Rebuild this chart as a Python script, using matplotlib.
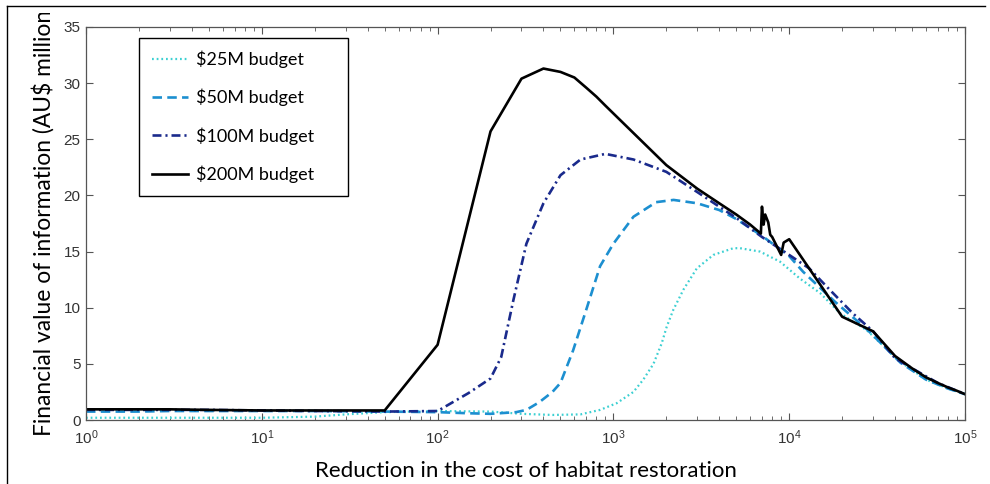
import matplotlib
matplotlib.use("Agg")
import matplotlib.pyplot as plt
from matplotlib.lines import Line2D
from matplotlib.ticker import LogLocator, NullFormatter, MultipleLocator
from matplotlib.transforms import Bbox

# Value of information vs. reduction in restoration cost, one curve per budget
labels = ["$25M budget", "$50M budget", "$100M budget", "$200M budget"]

x_25 = [1, 2, 5, 10, 20, 30, 50, 100, 200, 300, 450, 650, 840, 1045, 1300, 1480,
        1690, 1880, 2010, 2190, 2500, 2980, 3700, 4810, 5250, 6820, 8870, 11500,
        15000, 19500, 27600, 42700, 60000, 80000, 100000]
y_25 = [0.2, 0.2, 0.2, 0.2, 0.3, 0.5, 0.7, 0.8, 0.75, 0.55, 0.45, 0.5, 0.9, 1.5,
        2.5, 3.6, 5.0, 6.8, 8.3, 9.8, 11.6, 13.5, 14.7, 15.3, 15.3, 15.0, 14.1,
        12.6, 11.3, 9.5, 8.0, 5.2, 3.6, 2.8, 2.3]

x_50 = [1, 2, 3, 5, 10, 20, 50, 100, 150, 200, 280, 320, 380, 450, 500, 590, 700,
        840, 1000, 1300, 1750, 2200, 3000, 4000, 5000, 7000, 10000, 12000, 18000,
        28000, 43000, 60000, 80000, 100000]
y_50 = [0.75, 0.75, 0.8, 0.8, 0.8, 0.8, 0.75, 0.7, 0.6, 0.55, 0.7, 0.9, 1.6, 2.5,
        3.3, 6.2, 9.8, 13.7, 15.7, 18.1, 19.4, 19.6, 19.3, 18.7, 17.9, 16.4, 14.6,
        13.2, 10.6, 8.0, 5.1, 3.6, 2.8, 2.3]

x_100 = [1, 2, 5, 10, 20, 50, 100, 150, 200, 230, 270, 320, 400, 500, 650, 900,
         1300, 2000, 3000, 4000, 5000, 7000, 10000, 13000, 17000, 23000, 30000,
         40000, 50000, 70000, 100000]
y_100 = [0.9, 0.9, 0.9, 0.85, 0.8, 0.75, 0.8, 2.4, 3.7, 5.6, 10.7, 15.7, 19.3,
         21.8, 23.2, 23.7, 23.2, 22.1, 20.3, 19.0, 18.0, 16.3, 14.7, 13.5, 11.6,
         9.5, 7.9, 5.5, 4.6, 3.3, 2.3]

x_200 = [1, 2, 3, 5, 10, 20, 50, 100, 200, 300, 400, 500, 600, 700, 800, 900,
         1000, 2000, 3000, 4000, 5000, 6000, 6900, 7000, 7150, 7300, 7600, 7800,
         8000, 9000, 9300, 10000, 20000, 30000, 40000, 50000, 60000, 70000, 80000,
         90000, 100000]
y_200 = [0.95, 0.95, 0.95, 0.9, 0.85, 0.85, 0.85, 6.7, 25.7, 30.4, 31.3, 31.0,
         30.5, 29.6, 28.8, 28.0, 27.3, 22.7, 20.6, 19.3, 18.3, 17.4, 16.6, 19.0,
         17.4, 18.3, 17.6, 16.5, 16.3, 14.7, 15.8, 16.1, 9.2, 7.9, 5.7, 4.6, 3.8,
         3.3, 2.9, 2.6, 2.3]

plt.rcParams["mathtext.fontset"] = "custom"
plt.rcParams["mathtext.rm"] = "Liberation Sans"

fig = plt.figure(figsize=(9.9, 4.84), dpi=100)
ax = fig.add_axes([86 / 990, 64 / 484, 879 / 990, 393 / 484])

ax.plot(x_25, y_25, color="#3cd0d2", lw=1.6, linestyle=(0, (0.8, 1.3)),
        label=labels[0])
ax.plot(x_50, y_50, color="#1c8fd0", lw=1.9, linestyle=(0, (3.6, 2.0)),
        label=labels[1])
ax.plot(x_100, y_100, color="#1a2a8c", lw=1.9, linestyle=(0, (3.4, 1.5, 0.8, 1.5)),
        label=labels[2])
ax.plot(x_200, y_200, color="black", lw=1.9, label=labels[3])

ax.set_xscale("log")
ax.set_xlim(1, 1e5)
ax.set_ylim(0, 35)
ax.yaxis.set_major_locator(MultipleLocator(5))
ax.xaxis.set_major_locator(LogLocator(base=10, numticks=10))
ax.xaxis.set_minor_locator(LogLocator(base=10, subs=range(2, 10), numticks=20))
ax.xaxis.set_minor_formatter(NullFormatter())

for side in ax.spines.values():
    side.set_color("#555555")
    side.set_linewidth(0.9)
ax.tick_params(which="both", direction="in", top=True, right=True,
               color="#555555", labelcolor="#333333")
ax.tick_params(which="major", length=5, labelsize=11)
ax.tick_params(axis="x", which="major", pad=6)
ax.tick_params(axis="y", which="major", pad=4)
ax.tick_params(which="minor", length=3)
for lab in ax.get_xticklabels() + ax.get_yticklabels():
    lab.set_family("Liberation Sans")

ax.set_xlabel("Reduction in the cost of habitat restoration", family="Lato",
              fontsize=16, labelpad=10)

# y label runs off the top edge and is cut there
ylab = fig.text(43 / 990, (484 - 436) / 484,
                "Financial value of information (AU$ million)", family="Lato",
                fontsize=16.4, rotation=90, ha="center", va="bottom")
ylab.set_clip_box(Bbox([[0, 0], [990, 471]]))
ylab.set_clip_on(True)

leg = ax.legend(loc="upper left", bbox_to_anchor=(53 / 879, 1 - 11 / 393, 209 / 879, 0),
                mode="expand", borderaxespad=0, fancybox=False, framealpha=1,
                edgecolor="black", prop={"family": "Lato", "size": 13},
                handlelength=2.0, handletextpad=0.45, labelspacing=1.15,
                borderpad=0.7)
leg.get_frame().set_linewidth(1.0)

# thin frame along the top and left edge of the image
fig.add_artist(Line2D([7 / 990, 7 / 990], [0, 1 - 6 / 484], transform=fig.transFigure,
                      color="black", lw=1.0))
fig.add_artist(Line2D([7 / 990, 985 / 990], [1 - 6 / 484, 1 - 6 / 484],
                      transform=fig.transFigure, color="black", lw=1.0))

fig.savefig("out.png", dpi=100, facecolor="white")
